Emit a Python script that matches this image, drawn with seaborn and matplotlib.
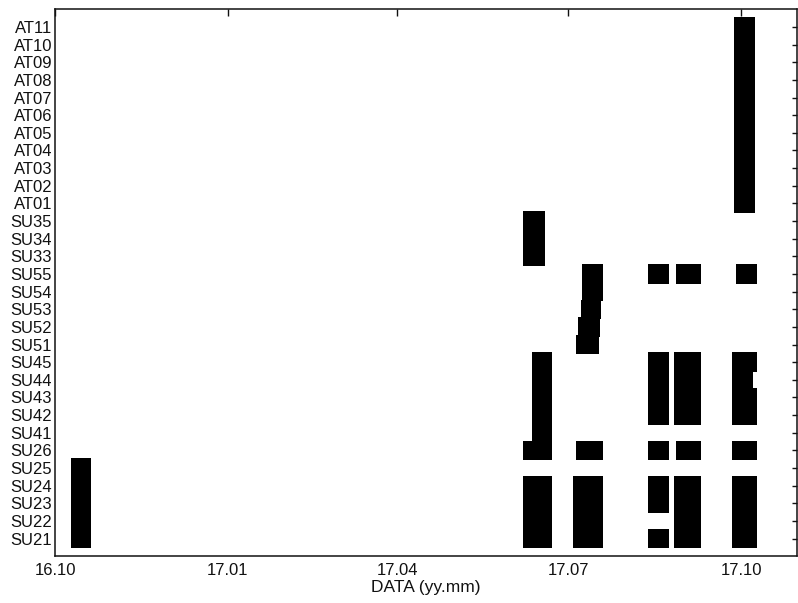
import matplotlib
matplotlib.use('Agg')
import matplotlib.pyplot as plt
import matplotlib.dates as mdates
import seaborn as sns
import pandas as pd

# Station rows, bottom to top
stations = ['SU21', 'SU22', 'SU23', 'SU24', 'SU25', 'SU26',
            'SU41', 'SU42', 'SU43', 'SU44', 'SU45',
            'SU51', 'SU52', 'SU53', 'SU54', 'SU55',
            'SU33', 'SU34', 'SU35',
            'AT01', 'AT02', 'AT03', 'AT04', 'AT05', 'AT06',
            'AT07', 'AT08', 'AT09', 'AT10', 'AT11']

# Data-availability segments: stations, start, end
seg_stations = [
    ['SU21', 'SU22', 'SU23', 'SU24', 'SU25'],
    ['SU21', 'SU22', 'SU23', 'SU24', 'SU26'],
    ['SU41', 'SU42', 'SU43', 'SU44', 'SU45'],
    ['SU33', 'SU34', 'SU35'],
    ['SU21', 'SU22', 'SU23', 'SU24'],
    ['SU26'],
    ['SU51'],
    ['SU52'],
    ['SU53'],
    ['SU54', 'SU55'],
    ['SU21', 'SU23', 'SU24', 'SU26', 'SU42', 'SU43', 'SU44', 'SU45', 'SU55'],
    ['SU26', 'SU55'],
    ['SU21', 'SU22', 'SU23', 'SU24', 'SU42', 'SU43', 'SU44', 'SU45'],
    ['AT01', 'AT02', 'AT03', 'AT04', 'AT05', 'AT06', 'AT07', 'AT08', 'AT09', 'AT10', 'AT11'],
    ['SU55'],
    ['SU21', 'SU22', 'SU23', 'SU24', 'SU26', 'SU42', 'SU43', 'SU45'],
    ['SU44'],
]
seg_start = [
    '2016-10-09 07:00',
    '2017-06-07 00:00',
    '2017-06-11 12:00',
    '2017-06-07 00:00',
    '2017-07-03 08:00',
    '2017-07-05 10:00',
    '2017-07-05 02:00',
    '2017-07-06 12:00',
    '2017-07-07 14:00',
    '2017-07-08 07:00',
    '2017-08-12 10:00',
    '2017-08-27 07:00',
    '2017-08-26 05:00',
    '2017-09-27 05:00',
    '2017-09-28 12:00',
    '2017-09-26 05:00',
    '2017-09-26 05:00',
]
seg_end = [
    '2016-10-20 02:00',
    '2017-06-22 12:00',
    '2017-06-22 12:00',
    '2017-06-18 12:00',
    '2017-07-19 08:00',
    '2017-07-19 08:00',
    '2017-07-17 12:00',
    '2017-07-17 19:00',
    '2017-07-18 05:00',
    '2017-07-19 08:00',
    '2017-08-23 10:00',
    '2017-09-09 12:00',
    '2017-09-09 12:00',
    '2017-10-08 07:00',
    '2017-10-09 12:00',
    '2017-10-09 12:00',
    '2017-10-07 10:00',
]

tick_dates = ['2016-10-01', '2017-01-01', '2017-04-01', '2017-07-01', '2017-10-01']
x_limits = ['2016-10-01', '2017-10-30 14:00']

rows = []
for sts, s, e in zip(seg_stations, seg_start, seg_end):
    for st in sts:
        rows.append({'station': st, 'start': pd.Timestamp(s), 'end': pd.Timestamp(e)})
df = pd.DataFrame(rows)
df['pos'] = df['station'].map({s: i + 1 for i, s in enumerate(stations)})
df['x0'] = mdates.date2num(df['start'])
df['w'] = mdates.date2num(df['end']) - df['x0']

sns.set_style('white')
plt.rcParams['font.family'] = ['Liberation Sans', 'DejaVu Sans']

fig = plt.figure(figsize=(7.98, 6.03), dpi=100)
ax = fig.add_axes([55 / 798, 1 - 556.3 / 603, (796.7 - 55) / 798, (556.3 - 9.3) / 603])

ax.barh(df['pos'], df['w'], left=df['x0'], height=1.1, color='black', linewidth=0)

ax.set_ylim(0, 31)
ax.set_yticks(range(1, len(stations) + 1))
ax.set_yticklabels(stations)
ax.set_xlim(mdates.date2num(pd.Timestamp(x_limits[0])), mdates.date2num(pd.Timestamp(x_limits[1])))
ax.set_xticks(mdates.date2num(pd.to_datetime(tick_dates)))
ax.xaxis.set_major_formatter(mdates.DateFormatter('%y.%m'))
ax.set_xlabel('DATA (yy.mm)', fontsize=12.5, color='#111111', labelpad=1.5)

ax.tick_params(axis='both', direction='in', top=True, right=True,
               colors='#111111', width=1.0)
ax.tick_params(axis='x', length=5, pad=5, labelsize=12)
ax.tick_params(axis='y', length=3.8, pad=2, labelsize=12)
for sp in ax.spines.values():
    sp.set_visible(True)
    sp.set_color('#111111')
    sp.set_linewidth(1.1)
ax.grid(False)

fig.savefig('out.png', dpi=100)
